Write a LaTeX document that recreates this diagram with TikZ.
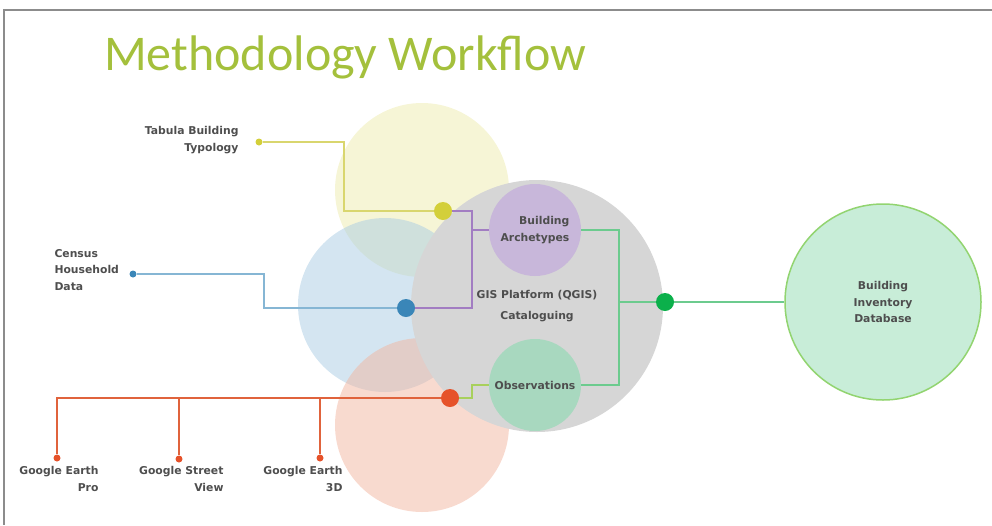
\documentclass[tikz,border=0pt]{standalone}
\usepackage{fontspec}
\setmainfont{DejaVu Sans}
\newfontfamily\titlefont{Carlito}
\usetikzlibrary{positioning, calc}
\definecolor{titlegreen}{HTML}{A4C03C}
\definecolor{framegray}{HTML}{8C8C8C}
\definecolor{labelgray}{HTML}{4E4E4E}
\definecolor{yellowfill}{HTML}{EDEBAE}
\definecolor{bluefill}{HTML}{A9CCE3}
\definecolor{pinkfill}{HTML}{F2B5A0}
\definecolor{grayfill}{HTML}{D6D6D6}
\definecolor{archfill}{HTML}{C8B7DA}
\definecolor{obsfill}{HTML}{A8D8BF}
\definecolor{dbfill}{HTML}{C8EDD8}
\definecolor{dbline}{HTML}{92D470}
\definecolor{yellowdot}{HTML}{D3CF3A}
\definecolor{bluedot}{HTML}{3A86B8}
\definecolor{orangedot}{HTML}{E6522A}
\definecolor{greendot}{HTML}{0BB04B}
\definecolor{yellowline}{HTML}{D9D66E}
\definecolor{blueline}{HTML}{86B6D4}
\definecolor{purpleline}{HTML}{A27DC2}
\definecolor{greenline}{HTML}{6CCB8E}
\definecolor{limeline}{HTML}{A8D05C}
\definecolor{orangeline}{HTML}{E0633C}
\newcommand{\lblfont}{\fontsize{10.8}{16.5}\selectfont\bfseries}

\begin{document}
\begin{tikzpicture}[x=1pt, y=-1pt,
  blob/.style={circle, inner sep=0pt, minimum size=#1},
  hub/.style={circle, inner sep=0pt, minimum size=18pt},
  tipdot/.style={circle, inner sep=0pt, minimum size=7pt},
  lbl/.style={font=\lblfont, text=labelgray},
  wire/.style={line width=1.3pt}]
  \useasboundingbox (0,0) rectangle (992,525);
  \draw[framegray, line width=1.5pt] (992,10) -- (4,10) -- (4,525);

  % title
  \node[anchor=base west, inner sep=0pt, text=titlegreen,
        font=\titlefont\fontsize{50}{50}\selectfont] (title) at (104,70) {Methodology Workflow};

  % source circles
  \node[blob=174pt, fill=yellowfill, fill opacity=.5] (ycirc) at (422,190) {};
  \node[blob=174pt, fill=bluefill, fill opacity=.5] (bcirc) at (385,305) {};
  \node[blob=174pt, fill=pinkfill, fill opacity=.5] (pcirc) at (422,425) {};
  \node[blob=252pt, fill=grayfill, lbl, align=center] (gis) at (537,306)
    {GIS Platform (QGIS)\\[5pt]Cataloguing};
  \node[blob=92pt, fill=archfill, lbl, align=right] (arch) at (535,230) {Building\\Archetypes};
  \node[blob=92pt, fill=obsfill, lbl] (obs) at (535,385) {Observations};
  \node[blob=196pt, fill=dbfill, draw=dbline, line width=1.5pt, lbl, align=center] (db)
    at (883,302) {Building\\Inventory\\Database};

  % hubs
  \node[hub, fill=yellowdot] (yhub) at (443,211) {};
  \node[hub, fill=bluedot] (bhub) at (406,308) {};
  \node[hub, fill=orangedot] (ohub) at (450,398) {};
  \node[hub, fill=greendot] (ghub) at (665,302) {};

  % inputs
  \node[tipdot, fill=yellowdot] (tabtip) at (259,142) {};
  \node[lbl, align=right, anchor=east] (tablbl) at (242,140) {Tabula Building\\Typology};
  \node[tipdot, fill=bluedot] (censustip) at (133,274) {};
  \node[lbl, align=left, anchor=west] (censuslbl) at (51,270) {Census\\Household\\Data};
  \node[tipdot, fill=orangedot] (gepro) at (57,458) {};
  \node[tipdot, fill=orangedot] (gsv) at (179,459) {};
  \node[tipdot, fill=orangedot] (ge3d) at (320,458) {};
  \node[lbl, align=right, anchor=north east] (geprolbl) at (102,463) {Google Earth\\Pro};
  \node[lbl, align=right, anchor=north east] (gsvlbl) at (227,463) {Google Street\\View};
  \node[lbl, align=right, anchor=north east] (ge3dlbl) at (346,463) {Google Earth\\3D};

  % connectors
  \coordinate (pj) at (472,230);
  \coordinate (gj) at (619,302);
  \draw[wire, yellowline] (tabtip) -- ++(85,0) |- (yhub);
  \draw[wire, blueline] (censustip) -- ++(131,0) |- (bhub);
  \draw[wire, purpleline] (yhub) -| (pj) |- (bhub);
  \draw[wire, purpleline] (pj) -- (arch);
  \draw[wire, greenline] (arch) -| (gj) |- (obs);
  \draw[wire, greenline] (gj) -- (ghub) -- (db);
  \draw[wire, limeline] (ohub) -- ++(22,0) |- (obs);
  \draw[wire, orangeline] (ohub) -| (gepro);
  \foreach \t in {gsv, ge3d}
    \draw[wire, orangeline] (\t |- ohub) -- (\t);
\end{tikzpicture}
\end{document}
